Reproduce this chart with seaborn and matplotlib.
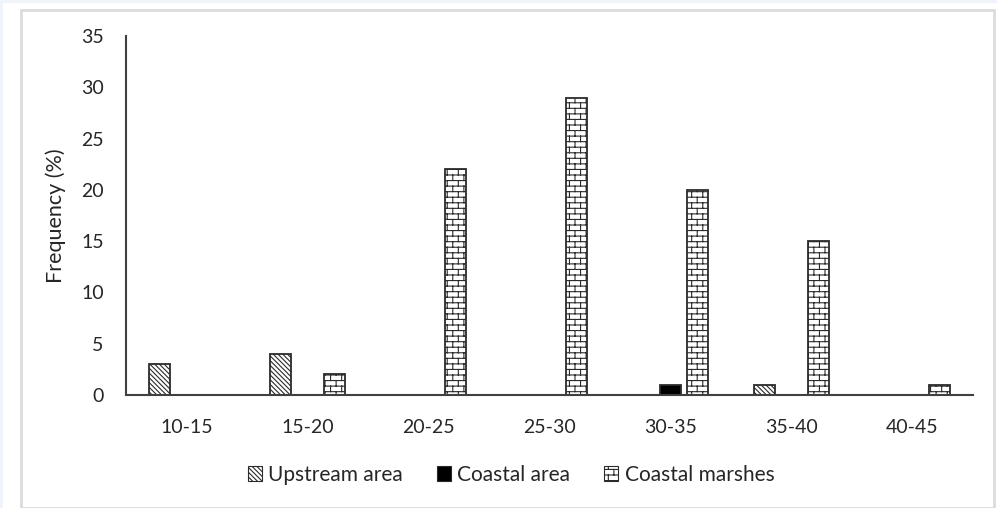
import warnings
import numpy as np
import pandas as pd
import matplotlib
matplotlib.use("Agg")
import matplotlib.pyplot as plt
import matplotlib.hatch as mhatch
from matplotlib.path import Path
from matplotlib.patches import Patch, Rectangle
import seaborn as sns

warnings.filterwarnings("ignore")

# ---- data -------------------------------------------------------------
size_classes = ["10-15", "15-20", "20-25", "25-30", "30-35", "35-40", "40-45"]
upstream_area = [3, 4, 0, 0, 0, 1, 0]
coastal_area = [0, 0, 0, 0, 1, 0, 0]
coastal_marshes = [0, 2, 22, 29, 20, 15, 1]
series_names = ["Upstream area", "Coastal area", "Coastal marshes"]


# ---- brick hatch pattern (character 'b') --------------------------------
class BrickHatch(mhatch.HatchPatternBase):
    def __init__(self, hatch, density):
        self.rows = int(hatch.count("b") * density)
        self.nb = max(self.rows // 2, 1)
        if self.rows:
            # horizontal lines + vertical joints + wrapped joints of last row
            self.num_vertices = 2 * self.rows + 2 * self.rows * self.nb + 2 * self.nb
        else:
            self.num_vertices = 0

    def set_vertices_and_codes(self, vertices, codes):
        rows, nb = self.rows, self.nb
        k = 0
        for i in range(rows):
            y = (i + 0.5) / rows
            vertices[k] = (0.0, y)
            vertices[k + 1] = (1.0, y)
            k += 2
        for i in range(rows):
            y0 = (i + 0.5) / rows
            y1 = min((i + 1.5) / rows, 1.0)
            off = 0.25 + 0.5 * (i % 2)
            for j in range(nb):
                x = (j + off) / nb
                vertices[k] = (x, y0)
                vertices[k + 1] = (x, y1)
                k += 2
        off = 0.25 + 0.5 * ((rows - 1) % 2)
        for j in range(nb):
            x = (j + off) / nb
            vertices[k] = (x, 0.0)
            vertices[k + 1] = (x, 0.5 / rows)
            k += 2
        codes[0::2] = Path.MOVETO
        codes[1::2] = Path.LINETO


mhatch._hatch_types.append(BrickHatch)

# ---- styling ----------------------------------------------------------
sns.set_theme(style="white")
plt.rcParams["font.family"] = ["Lato", "DejaVu Sans"]
plt.rcParams["hatch.linewidth"] = 0.8

edge_col = "#2b2b2b"
text_col = "#262626"
diag = "\\" * 7
hatches = [diag, None, "bbb"]
faces = ["white", "black", "white"]

df = pd.DataFrame({
    "Size": np.tile(size_classes, 3),
    "Series": np.repeat(series_names, len(size_classes)),
    "Frequency": upstream_area + coastal_area + coastal_marshes,
})

fig = plt.figure(figsize=(9.97, 5.08), dpi=100)
fig.patch.set_facecolor("#eef4fa")
W, H = 997, 508
fig.patches.append(Rectangle((3 / W, 0), 1, 1 - 3 / H, transform=fig.transFigure,
                             facecolor="white", edgecolor="none", zorder=-2))
fig.patches.append(Rectangle((21 / W, 0 / H), (994 - 21) / W, (498) / H,
                             transform=fig.transFigure, facecolor="white",
                             edgecolor="#dcdcdc", linewidth=2, zorder=-1))

ax = fig.add_axes([126 / W, 1 - 395 / H, (973 - 126) / W, (395 - 36) / H])
ax.set_facecolor("none")

sns.barplot(data=df, x="Size", y="Frequency", hue="Series", hue_order=series_names,
            order=size_classes, palette=faces, width=0.67, gap=0.19,
            edgecolor=edge_col, linewidth=1.3, legend=False, ax=ax)

for cont, h, fc in zip(ax.containers, hatches, faces):
    for bar in cont:
        bar.set_facecolor(fc)
        bar.set_edgecolor(edge_col)
        if h:
            bar.set_hatch(h)

ax.set_ylim(0, 35)
ax.set_yticks(range(0, 36, 5))
ax.set_xlabel("")
ax.set_ylabel("Frequency (%)", fontsize=15.5, color=text_col, labelpad=11)
ax.tick_params(axis="both", length=0, labelsize=14, labelcolor=text_col)
ax.tick_params(axis="x", pad=17)
ax.tick_params(axis="y", pad=16)
for side in ["top", "right"]:
    ax.spines[side].set_visible(False)
for side in ["left", "bottom"]:
    ax.spines[side].set_color("#404040")
    ax.spines[side].set_linewidth(1.5)

handles = [Patch(facecolor=fc, edgecolor=edge_col, hatch=h, linewidth=0.8, label=n)
           for n, h, fc in zip(series_names, hatches, faces)]
fig.legend(handles=handles, loc="center", bbox_to_anchor=(511 / W, 1 - 475 / H),
           ncol=3, frameon=False, fontsize=15, handlelength=0.7, handleheight=0.7,
           handletextpad=0.3, columnspacing=1.6, labelcolor=text_col)

fig.savefig("out.png", dpi=100, facecolor=fig.get_facecolor())
